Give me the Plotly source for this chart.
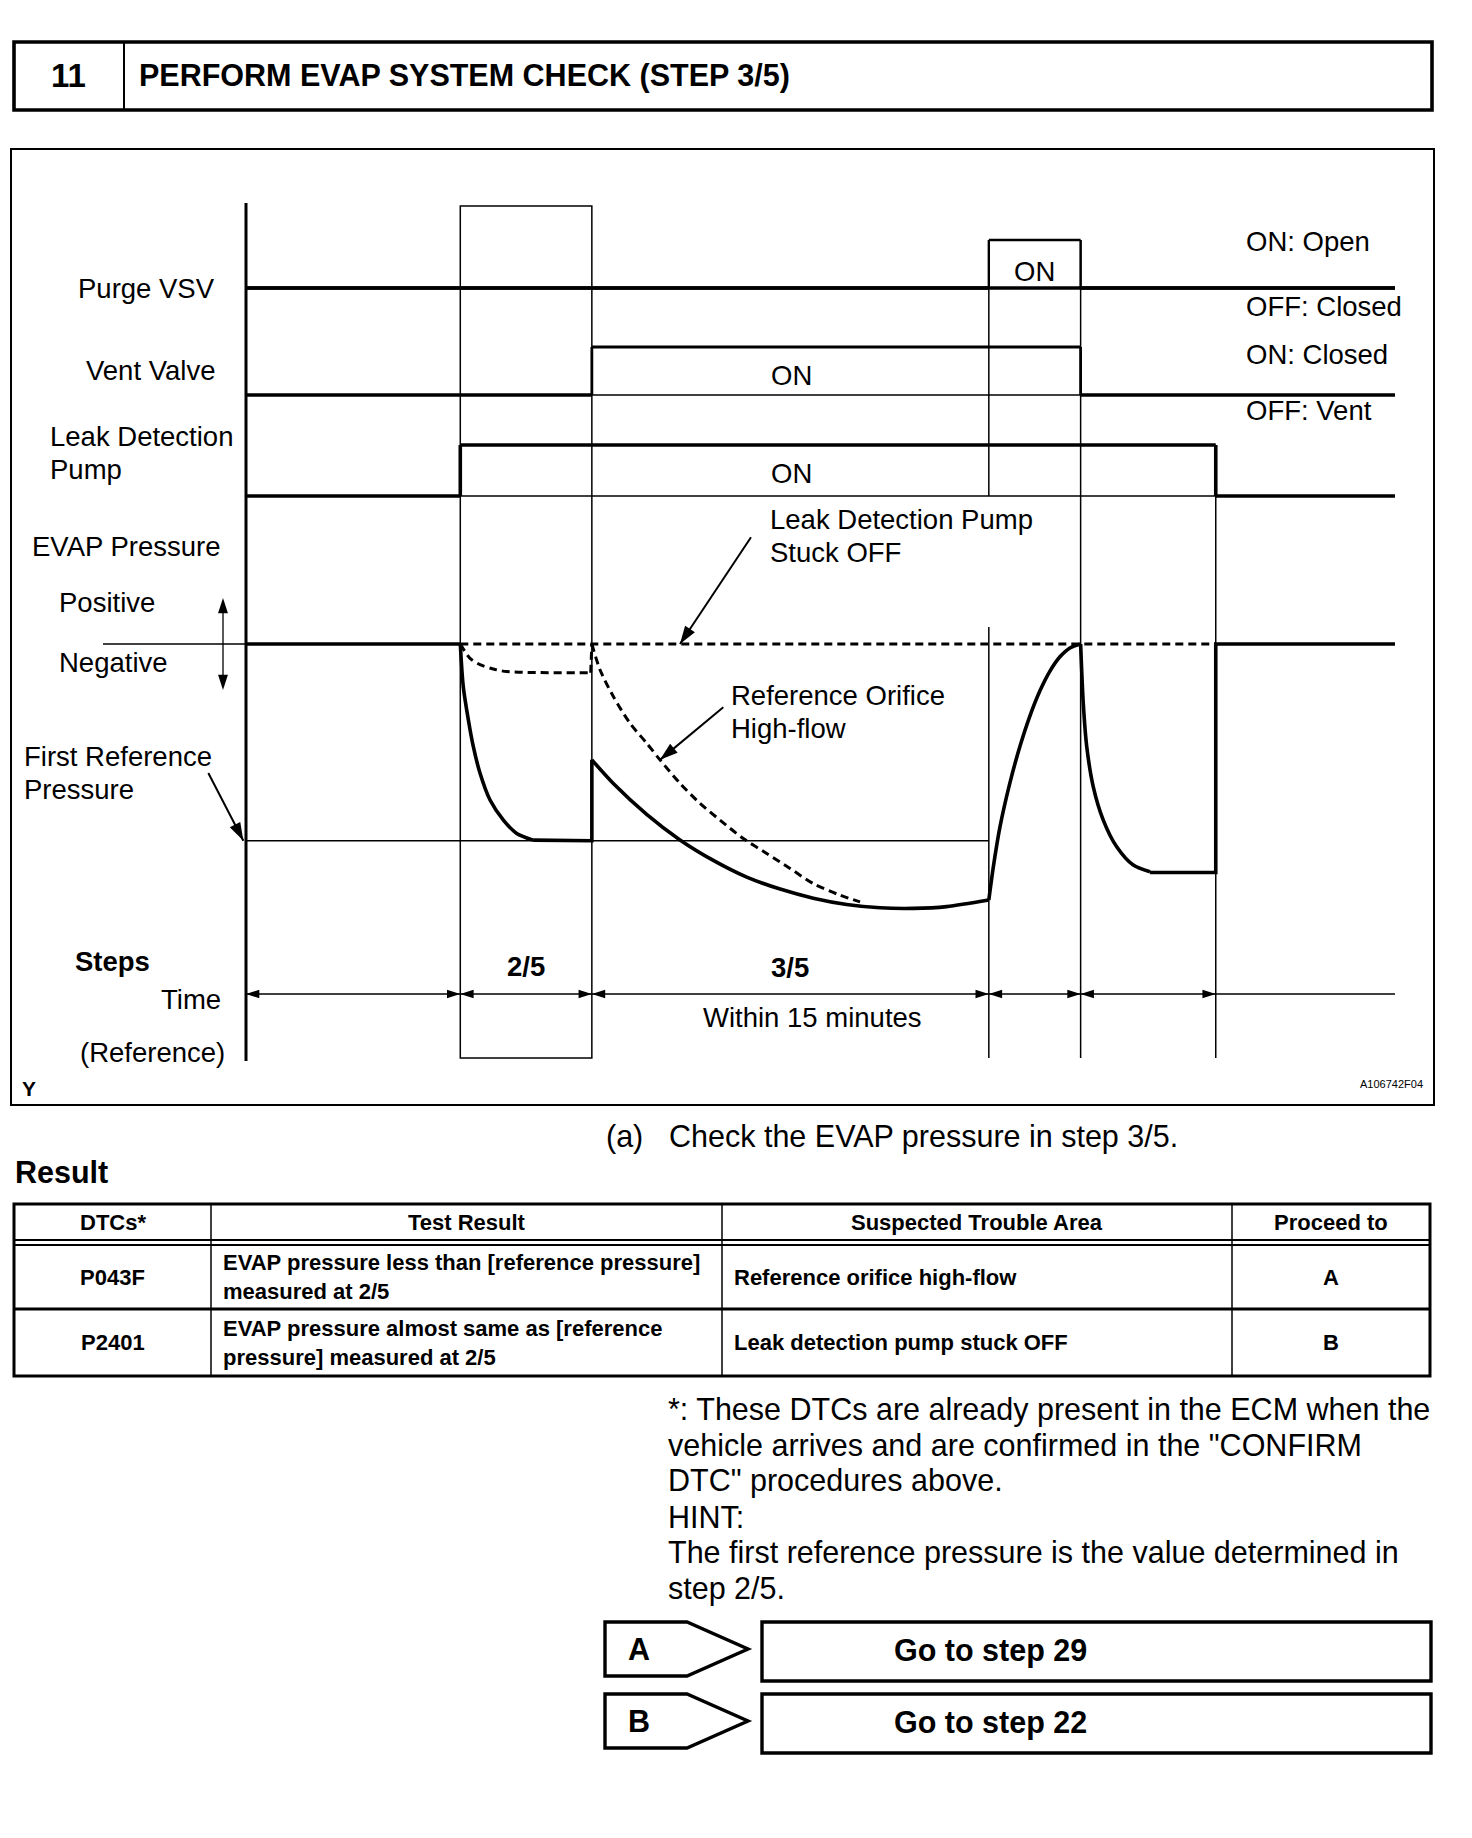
import math
import plotly.graph_objects as go

W, H = 1472, 1838
FONT = "Liberation Sans, Arial, Helvetica, sans-serif"
BLACK = "#000000"

# ---------------- data ----------------
# event times (arbitrary time units along the diagram)
EVENT_T = [0.0, 18.65, 30.1, 64.65, 72.64, 84.4, 100.0]
T0, T2, T3, TPON, TPOFF, TLOFF, TEND = EVENT_T

# digital signals: time / level (0 = OFF, 1 = ON)
PURGE_T = [0.0, 64.65, 64.65, 72.64, 72.64, 100.0]
PURGE_L = [0, 0, 1, 1, 0, 0]
VENT_T = [0.0, 30.1, 30.1, 72.64, 72.64, 100.0]
VENT_L = [0, 0, 1, 1, 0, 0]
PUMP_T = [0.0, 18.65, 18.65, 84.4, 84.4, 100.0]
PUMP_L = [0, 0, 1, 1, 0, 0]

FIRST_REF_P = -1.0  # first reference pressure level (relative)

# normal EVAP pressure (solid line)
P_PRE_T = [0.0, 18.65]
P_PRE_P = [0.0, 0.0]
P_S2_T = [18.65, 18.91, 19.35, 19.78, 20.37, 21.24, 22.4, 23.56, 25.0]
P_S2_P = [0.0, -0.217, -0.385, -0.521, -0.657, -0.793, -0.895, -0.963, -0.997]
P_S2F_T = [25.0, 30.1, 30.1]
P_S2F_P = [-0.997, -1.0, -0.589]
P_S3_T = [30.1, 31.97, 34.87, 37.77, 40.67, 43.58, 46.48, 49.37, 52.28, 55.18, 58.08, 60.98, 64.65]
P_S3_P = [-0.589, -0.709, -0.866, -0.996, -1.100, -1.185, -1.246, -1.292, -1.324, -1.341, -1.344,
          -1.335, -1.302]
P_RISE_T = [64.65, 65.04, 65.62, 66.49, 67.36, 68.23, 69.1, 69.97, 70.84, 71.71, 72.64]
P_RISE_P = [-1.302, -1.134, -0.930, -0.705, -0.520, -0.365, -0.238, -0.138, -0.065, -0.020, 0.0]
P_DROP_T = [72.64, 72.87, 73.17, 73.74, 74.61, 75.78, 77.22, 78.68]
P_DROP_P = [0.0, -0.302, -0.521, -0.726, -0.895, -1.031, -1.124, -1.158]
P_END_T = [78.68, 84.4, 84.4, 100.0]
P_END_P = [-1.162, -1.162, 0.0, 0.0]

# leak detection pump stuck OFF (dashed)
STUCK_T = [18.65, 84.4]
STUCK_P = [0.0, 0.0]
# reference orifice high-flow (dashed)
HF_S2_T = [18.65, 19.5, 20.37, 21.52, 22.69, 30.0]
HF_S2_P = [0.0, -0.073, -0.105, -0.127, -0.14, -0.146]
HF_S2V_T = [30.0, 30.1]
HF_S2V_P = [-0.146, 0.0]
HF_S3_T = [30.1, 30.81, 31.97, 33.42, 34.87, 36.03, 37.77, 39.51, 41.25, 43.28, 45.32, 47.35,
           49.37, 51.7, 53.44]
HF_S3_P = [0.0, -0.131, -0.267, -0.403, -0.504, -0.589, -0.708, -0.810, -0.895, -0.989, -1.065,
           -1.141, -1.218, -1.277, -1.311]

# callout arrows: tip (t, p) and tail (t, p)
CALLOUTS = [(37.77, 0.0, 43.95, 0.543),      # Leak Detection Pump Stuck OFF
            (36.03, -0.589, 41.54, -0.322),  # Reference Orifice High-flow
            (-0.23, -1.0, -3.28, -0.656)]    # First Reference Pressure

# table
TABLE_HEADERS = ["DTCs*", "Test Result", "Suspected Trouble Area", "Proceed to"]
DTCS = ["P043F", "P2401"]
TEST_RESULTS = ["EVAP pressure less than [reference pressure]<br>measured at 2/5",
                "EVAP pressure almost same as [reference<br>pressure] measured at 2/5"]
TROUBLE_AREAS = ["Reference orifice high-flow", "Leak detection pump stuck OFF"]
PROCEED = ["A", "B"]
GOTO = ["Go to step 29", "Go to step 22"]

FOOTNOTE = ['*: These DTCs are already present in the ECM when the',
            'vehicle arrives and are confirmed in the "CONFIRM',
            'DTC" procedures above.',
            'HINT:',
            'The first reference pressure is the value determined in',
            'step 2/5.']

# ---------------- layout constants (pixels) ----------------
X_T0_PX, X_T100_PX = 246.0, 1395.0
PX_PER_T = (X_T100_PX - X_T0_PX) / 100.0
Y_P0_PX, Y_PREF_PX = 644.0, 840.7
PX_PER_P = Y_PREF_PX - Y_P0_PX
LANES = {"purge": (288.0, 240.0), "vent": (395.0, 347.0), "pump": (496.0, 445.0)}
TIME_ROW_Y = 994

THICK, MED, THIN = 3.6, 2.4, 1.5
LBL = 27.5   # diagram label size
BIG = 30.5   # page text size
TBL = 22     # table text size

fig = go.Figure()


def lane_range(base, high):
    u = base - high
    return [-(H - base) / u, base / u]


def step_segments(ts, ls):
    off_x, off_y, on_x, on_y = [], [], [], []
    for i in range(len(ts) - 1):
        if ls[i] == 0 and ls[i + 1] == 0:
            off_x += [ts[i], ts[i + 1], None]
            off_y += [ls[i], ls[i + 1], None]
        else:
            on_x += [ts[i], ts[i + 1], None]
            on_y += [ls[i], ls[i + 1], None]
    return off_x, off_y, on_x, on_y


def line_trace(x, y, yaxis, width, dash="solid", shape="linear", xaxis="x2"):
    fig.add_trace(go.Scatter(x=x, y=y, xaxis=xaxis, yaxis=yaxis, mode="lines",
                             line=dict(color=BLACK, width=width, dash=dash, shape=shape,
                                       smoothing=0.8),
                             hoverinfo="skip", showlegend=False))


def heads(xs, ys, angles, size, xaxis="x2", yaxis="y"):
    fig.add_trace(go.Scatter(x=xs, y=ys, xaxis=xaxis, yaxis=yaxis, mode="markers",
                             marker=dict(symbol="arrow", size=size, angle=angles, color=BLACK,
                                         line=dict(width=0)),
                             hoverinfo="skip", showlegend=False))


# dummy trace on pixel axes so main subplot exists
fig.add_trace(go.Scatter(x=[0], y=[0], mode="markers", marker=dict(opacity=0),
                         hoverinfo="skip", showlegend=False))

# signals
sig_specs = [("y3", PURGE_T, PURGE_L, THICK, MED),
             ("y4", VENT_T, VENT_L, THIN, MED + 0.4),
             ("y5", PUMP_T, PUMP_L, THIN, THICK)]
for yax, ts, ls, base_w, on_w in sig_specs:
    line_trace([ts[0], ts[-1]], [0, 0], yax, base_w)
    ox, oy, nx, ny = step_segments(ts, ls)
    line_trace(nx, ny, yax, on_w)
    line_trace(ox, oy, yax, THICK)

# pressure
line_trace([T0, TPON], [FIRST_REF_P, FIRST_REF_P], "y2", THIN)
DASH = "8px,5px"
line_trace(STUCK_T, STUCK_P, "y2", 3, dash=DASH)
line_trace(HF_S2_T, HF_S2_P, "y2", 3, dash=DASH, shape="spline")
line_trace(HF_S2V_T, HF_S2V_P, "y2", 3, dash=DASH)
line_trace(HF_S3_T, HF_S3_P, "y2", 3, dash=DASH, shape="spline")
line_trace(P_PRE_T, P_PRE_P, "y2", THICK)
line_trace(P_S2_T, P_S2_P, "y2", THICK, shape="spline")
line_trace(P_S2F_T, P_S2F_P, "y2", THICK)
line_trace(P_S3_T, P_S3_P, "y2", THICK, shape="spline")
line_trace(P_RISE_T, P_RISE_P, "y2", THICK, shape="spline")
line_trace(P_DROP_T, P_DROP_P, "y2", THICK, shape="spline")
line_trace(P_END_T, P_END_P, "y2", THICK)

# callout arrows
cx_, cy_, cang = [], [], []
for tip_t, tip_p, tail_t, tail_p in CALLOUTS:
    line_trace([tail_t, tip_t], [tail_p, tip_p], "y2", 2)
    dx = (tip_t - tail_t) * PX_PER_T
    dy = -(tip_p - tail_p) * PX_PER_P
    cx_.append(tip_t)
    cy_.append(tip_p)
    cang.append(math.degrees(math.atan2(dx, -dy)))
heads(cx_, cy_, cang, 19, yaxis="y2")

# time row arrowheads
hx, hy, ha = [], [], []
for i in range(len(EVENT_T) - 2):
    hx += [EVENT_T[i], EVENT_T[i + 1]]
    hy += [TIME_ROW_Y, TIME_ROW_Y]
    ha += [270, 90]
heads(hx, hy, ha, 14)

# positive / negative double arrow
heads([223, 223], [598, 690], [0, 180], 16, xaxis="x", yaxis="y")

shapes = []


def pline(x0, y0, x1, y1, w, xref="x", yref="y"):
    shapes.append(dict(type="line", xref=xref, yref=yref, x0=x0, y0=y0, x1=x1, y1=y1,
                       line=dict(color=BLACK, width=w), layer="above"))


def prect(x0, y0, x1, y1, w, xref="x", yref="y"):
    shapes.append(dict(type="rect", xref=xref, yref=yref, x0=x0, y0=y0, x1=x1, y1=y1,
                       line=dict(color=BLACK, width=w), fillcolor="rgba(0,0,0,0)", layer="above"))


# header
prect(14, 42, 1432, 110, 3.6)
pline(124, 42, 124, 110, 2)
# diagram frame
prect(11, 149, 1434, 1105, 2)
# left axis
pline(T0, 203, T0, 1061, 3, xref="x2")
# step 2/5 box and marker lines
prect(T2, 206, T3, 1058, THIN, xref="x2")
pline(TPON, 240, TPON, 496, THIN, xref="x2")
pline(TPON, 627, TPON, 1058, THIN, xref="x2")
pline(TPOFF, 240, TPOFF, 1058, THIN, xref="x2")
pline(TLOFF, 445, TLOFF, 1058, THIN, xref="x2")
# zero pressure line left of axis
pline(103, 0, X_T0_PX, 0, THIN, xref="x", yref="y2")
# positive/negative shaft
pline(223, 604, 223, 684, 1.3)
# time row
pline(T0, TIME_ROW_Y, TEND, TIME_ROW_Y, THIN, xref="x2")
# table
TX0, TX1 = 14, 1430
COLS = [211, 722, 1232]
TY = [1204, 1240, 1245, 1309, 1376]
prect(TX0, TY[0], TX1, TY[4], 3)
for cx in COLS:
    pline(cx, TY[0], cx, TY[4], 1.5)
pline(TX0, TY[1], TX1, TY[1], 2.2)
pline(TX0, TY[2], TX1, TY[2], 2.2)
pline(TX0, TY[3], TX1, TY[3], 3)
# A / B tags and go-to boxes
for k, (y0, y1) in enumerate([(1622, 1676), (1694, 1748)]):
    ym = (y0 + y1) / 2
    shapes.append(dict(type="path", xref="x", yref="y",
                       path=f"M 605 {y0} L 687 {y0} L 748 {ym} L 687 {y1} L 605 {y1} Z",
                       line=dict(color=BLACK, width=3.4), fillcolor="rgba(0,0,0,0)"))
    prect(762, y0, 1431, y1 + 5, 3.4)

ann = []


def txt(s, x, y, size=LBL, bold=False, xanchor="left", xref="x", yref="y", align="left"):
    if bold:
        s = "<b>" + s + "</b>"
    ann.append(dict(text=s, x=x, y=y, xref=xref, yref=yref, xanchor=xanchor, yanchor="middle",
                    showarrow=False, align=align, font=dict(family=FONT, size=size, color=BLACK)))


# header texts
txt("11", 68, 75, 33, True, "center")
txt("PERFORM EVAP SYSTEM CHECK (STEP 3/5)", 137, 75, BIG, True)

# left labels
txt("Purge VSV", 217, 288, xanchor="right")
txt("Vent Valve", 217, 370, xanchor="right")
txt("Leak Detection", 48, 436)
txt("Pump", 48, 469)
txt("EVAP Pressure", 30, 546)
txt("Positive", 57, 602)
txt("Negative", 57, 662)
txt("First Reference", 22, 756)
txt("Pressure", 22, 789)
txt("Steps", 73, 961, bold=True)
txt("Time", 223, 999, xanchor="right")
txt("(Reference)", 227, 1052, xanchor="right")
txt("Y", 20, 1088, 21, True)
txt("A106742F04", 1425, 1084, 11, xanchor="right")
# right labels
txt("ON: Open", 1244, 241)
txt("OFF: Closed", 1244, 306)
txt("ON: Closed", 1244, 354)
txt("OFF: Vent", 1244, 410)
# ON labels
txt("ON", (TPON + TPOFF) / 2, 271, xanchor="center", xref="x2")
txt("ON", 791, 375, xanchor="center")
txt("ON", 791, 473, xanchor="center")
# callouts
txt("Leak Detection Pump", 768, 519)
txt("Stuck OFF", 768, 552)
txt("Reference Orifice", 729, 695)
txt("High-flow", 729, 728)
# steps
txt("2/5", (T2 + T3) / 2, 966, bold=True, xanchor="center", xref="x2")
txt("3/5", (T3 + TPON) / 2, 967, bold=True, xanchor="center", xref="x2")
txt("Within 15 minutes", 812, 1017, xanchor="center")

# lower text
txt("(a)", 604, 1136, BIG)
txt("Check the EVAP pressure in step 3/5.", 667, 1136, BIG)
txt("Result", 13, 1172, BIG, True)

# table text
hdr_cx = [(TX0 + COLS[0]) / 2, (COLS[0] + COLS[1]) / 2, (COLS[1] + COLS[2]) / 2, (COLS[2] + TX1) / 2]
for cx, h in zip(hdr_cx, TABLE_HEADERS):
    txt(h, cx, 1222, TBL, True, "center")
row_cy = [(TY[2] + TY[3]) / 2, (TY[3] + TY[4]) / 2]
for r in range(2):
    txt(DTCS[r], hdr_cx[0], row_cy[r], TBL, True, "center")
    txt(TEST_RESULTS[r], COLS[0] + 10, row_cy[r], TBL, True)
    txt(TROUBLE_AREAS[r], COLS[1] + 10, row_cy[r], TBL, True)
    txt(PROCEED[r], hdr_cx[3], row_cy[r], TBL, True, "center")

# footnote
for k, line in enumerate(FOOTNOTE):
    txt(line, 666, 1409 + k * 35.9, BIG)

# A/B, go to
for k, (lab, go_txt) in enumerate(zip(PROCEED, GOTO)):
    ym = 1649 + k * 72
    txt(lab, 639, ym, BIG, True, "center")
    txt(go_txt, 892, ym + 1, BIG, True)

layout_axes = dict(
    xaxis=dict(range=[0, W], domain=[0, 1], visible=False, fixedrange=True),
    yaxis=dict(range=[H, 0], domain=[0, 1], visible=False, fixedrange=True),
    xaxis2=dict(range=[-X_T0_PX / PX_PER_T, (W - X_T0_PX) / PX_PER_T], domain=[0, 1],
                anchor="y2", overlaying="x", visible=False, fixedrange=True),
    yaxis2=dict(range=[-(H - Y_P0_PX) / PX_PER_P, Y_P0_PX / PX_PER_P], domain=[0, 1],
                anchor="x2", overlaying="y", visible=False, fixedrange=True),
    yaxis3=dict(range=lane_range(*LANES["purge"]), anchor="x2", overlaying="y",
                visible=False, fixedrange=True),
    yaxis4=dict(range=lane_range(*LANES["vent"]), anchor="x2", overlaying="y",
                visible=False, fixedrange=True),
    yaxis5=dict(range=lane_range(*LANES["pump"]), anchor="x2", overlaying="y",
                visible=False, fixedrange=True),
)

fig.update_layout(width=W, height=H, autosize=False,
                  margin=dict(l=0, r=0, t=0, b=0, pad=0),
                  paper_bgcolor="white", plot_bgcolor="white",
                  shapes=shapes, annotations=ann, showlegend=False,
                  font=dict(family=FONT, color=BLACK), **layout_axes)

fig.write_html("out.html", config={"displayModeBar": False},
               post_script="document.body.style.margin='0px';")
